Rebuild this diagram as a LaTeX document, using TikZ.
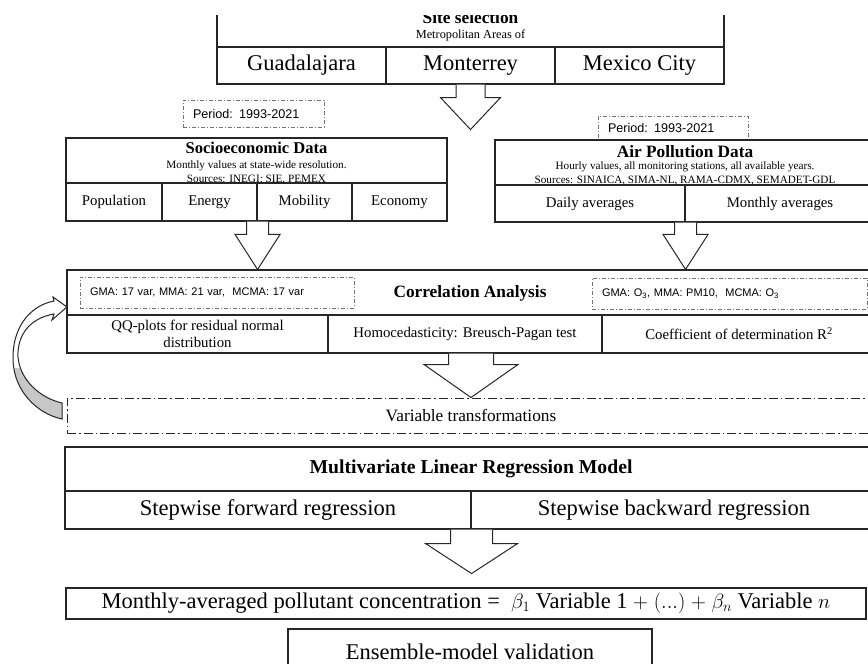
\documentclass[tikz,border=0pt]{standalone}
\usepackage{fontspec}
\setmainfont{Liberation Serif}
\setsansfont{Liberation Sans}
\usetikzlibrary{calc}

% block arrow: start, tip, shaft half width, head half width, head length
\newcommand{\blockarrow}[5]{%
  \draw[barrow] ($(#1)+(-#3,0)$) -- ($(#2)+(-#3,-#5)$) -- ($(#2)+(-#4,-#5)$) -- (#2)
    -- ($(#2)+(#4,-#5)$) -- ($(#2)+(#3,-#5)$) -- ($(#1)+(#3,0)$);}

% curved feedback arrow
\newcommand{\loopband}{(54,301) .. controls (28,306) and (12,330) .. (13,360)
  .. controls (14,392) and (38,414) .. (62,419) -- (62,403)
  .. controls (40,398) and (20,380) .. (18,357)
  .. controls (17,335) and (30,318) .. (54,314) -- (52,320) -- (67,307) -- (53,297) -- cycle}

\begin{document}
\begin{tikzpicture}[x=1pt, y=-1pt,
    box/.style={draw=black!85, line width=1.1pt, inner sep=0pt},
    perbox/.style={draw=black!55, line width=0.6pt, dash pattern=on 4pt off 2pt on 1pt off 2pt,
      inner xsep=10pt, inner ysep=0pt, align=left, font={\sffamily\fontsize{12.6}{14}\selectfont}},
    gmabox/.style={perbox, font={\sffamily\fontsize{11}{13}\selectfont}},
    barrow/.style={draw=black!85, line width=1pt, fill=white, line join=miter},
    big/.style={font={\fontsize{22.5}{26}\selectfont}},
    cell/.style={font={\fontsize{14.8}{17}\selectfont}},
    small/.style={font={\fontsize{11.2}{13}\selectfont}, anchor=base},
    ttl/.style={font={\bfseries\fontsize{17.3}{20}\selectfont}}]
  \useasboundingbox (0,0) rectangle (868,664);

  % Site selection
  \begin{scope}
    \clip (0,15) rectangle (868,664);
    \node[box, minimum width=507pt, minimum height=62pt] (site) at (470.5,16) {};
    \node[ttl, anchor=base] (sitettl) at (470.5,23) {Site selection};
  \end{scope}
  \node[small, font={\fontsize{12.3}{14}\selectfont}] (metro) at (470.5,38) {Metropolitan Areas of};
  \node[box, big, minimum width=169pt, minimum height=37pt] (gdl) at (301.5,65.5) {Guadalajara};
  \node[box, big, minimum width=169pt, minimum height=37pt] (mty) at (470.5,65.5) {Monterrey};
  \node[box, big, minimum width=169pt, minimum height=37pt] (mxc) at (639.5,65.5) {Mexico City};

  % Periods
  \node[perbox, minimum width=141pt, minimum height=27pt, text width=121pt] (per1) at (253.5,113.5) {Period: 1993-2021};
  \node[perbox, minimum width=150pt, minimum height=24pt, text width=130pt] (per2) at (673,128) {Period: 1993-2021};

  % Socioeconomic data
  \node[box, minimum width=381pt, minimum height=45pt] (socio) at (256.5,160.5) {};
  \node[ttl, font={\bfseries\fontsize{16.5}{19}\selectfont}, anchor=base] (sociottl) at (256.5,153) {Socioeconomic Data};
  \node[small] (sociomon) at (256.5,168) {Monthly values at state-wide resolution.};
  \node[small] (sociosrc) at (256.5,182) {Sources: INEGI; SIE, PEMEX};
  \node[box, cell, minimum width=96pt, minimum height=38pt] (pop) at (114,202) {Population};
  \node[box, cell, minimum width=95pt, minimum height=38pt] (eng) at (209.5,202) {Energy};
  \node[box, cell, minimum width=95pt, minimum height=38pt] (mob) at (304.5,202) {Mobility};
  \node[box, cell, minimum width=95pt, minimum height=38pt] (eco) at (399.5,202) {Economy};

  % Air pollution data
  \node[box, minimum width=380pt, minimum height=45pt] (air) at (685,162.5) {};
  \node[ttl, anchor=base] (airttl) at (685,157) {Air Pollution Data};
  \node[small] (airhour) at (685,169) {Hourly values, all monitoring stations, all available years.};
  \node[small] (airsrc) at (685,183) {Sources: SINAICA, SIMA-NL, RAMA-CDMX, SEMADET-GDL};
  \node[box, cell, minimum width=190pt, minimum height=37pt] (daily) at (590,203.5) {Daily averages};
  \node[box, cell, minimum width=190pt, minimum height=37pt] (monthly) at (780,203.5) {Monthly averages};

  % Correlation analysis
  \node[box, minimum width=808pt, minimum height=45pt] (corr) at (471,292.5) {};
  \node[ttl] (corrttl) at (470,293) {Correlation Analysis};
  \node[gmabox, minimum width=274pt, minimum height=31pt, text width=254pt] (gmavar) at (217,292.5) {GMA: 17 var, MMA: 21 var,\ \ MCMA: 17 var};
  \node[gmabox, minimum width=275pt, minimum height=31pt, text width=255pt] (gmapol) at (729.5,293.5) {GMA: O\textsubscript{3}, MMA: PM10,\ \ MCMA: O\textsubscript{3}};
  \node[box, cell, minimum width=261pt, minimum height=38pt, align=center] (qq) at (197.5,334) {QQ-plots for residual normal\\distribution};
  \node[box, cell, minimum width=274pt, minimum height=38pt] (homo) at (465,334) {Homocedasticity: Breusch-Pagan test};
  \node[box, cell, minimum width=274pt, minimum height=38pt] (coef) at (739,334) {Coefficient of determination R\textsuperscript{2}};

  % Variable transformations
  \node[box, line width=1pt, dash pattern=on 9pt off 3pt on 1.5pt off 3pt, ttl, font={\fontsize{17.3}{20}\selectfont},
    minimum width=808pt, minimum height=35pt] (vart) at (471,415.5) {Variable transformations};

  % Regression model
  \node[box, font={\bfseries\fontsize{19.7}{22}\selectfont}, minimum width=812pt, minimum height=44pt] (mlr) at (471,469) {Multivariate Linear Regression Model};
  \node[box, big, minimum width=406pt, minimum height=38pt] (fwd) at (268,510) {Stepwise forward regression};
  \node[box, big, minimum width=406pt, minimum height=38pt] (bwd) at (674,510) {Stepwise backward regression};

  % Result and validation
  \node[box, big, minimum width=800pt, minimum height=31pt] (eqn) at (466,603.5)
    {Monthly-averaged pollutant concentration = \ $\beta_1$ Variable 1 $+$ $(...)$ $+$ $\beta_n$ Variable $n$};
  \node[box, big, minimum width=364pt, minimum height=46pt] (ens) at (470,652) {Ensemble-model validation};

  % Block arrows
  \coordinate (a1) at ($(mty.south)+(0,45)$);
  \coordinate (a2) at (eng.south east |- corr.north);
  \coordinate (a3) at (daily.south east |- corr.north);
  \coordinate (a4) at ($(fwd.south east)+(0,44)$);
  \blockarrow{mty.south}{a1}{14.5}{30}{32}
  \blockarrow{eng.south east}{a2}{11}{22.5}{35}
  \blockarrow{daily.south east}{a3}{11}{22.5}{35}
  \blockarrow{homo.south -| vart.north}{vart.north}{22.5}{47}{33}
  \blockarrow{fwd.south east}{a4}{21}{46}{30}

  % Feedback arrow
  \fill[white] \loopband;
  \begin{scope}
    \clip (0,368) rectangle (70,430);
    \fill[black!22] \loopband;
  \end{scope}
  \draw[barrow, fill=none] \loopband;
\end{tikzpicture}
\end{document}
